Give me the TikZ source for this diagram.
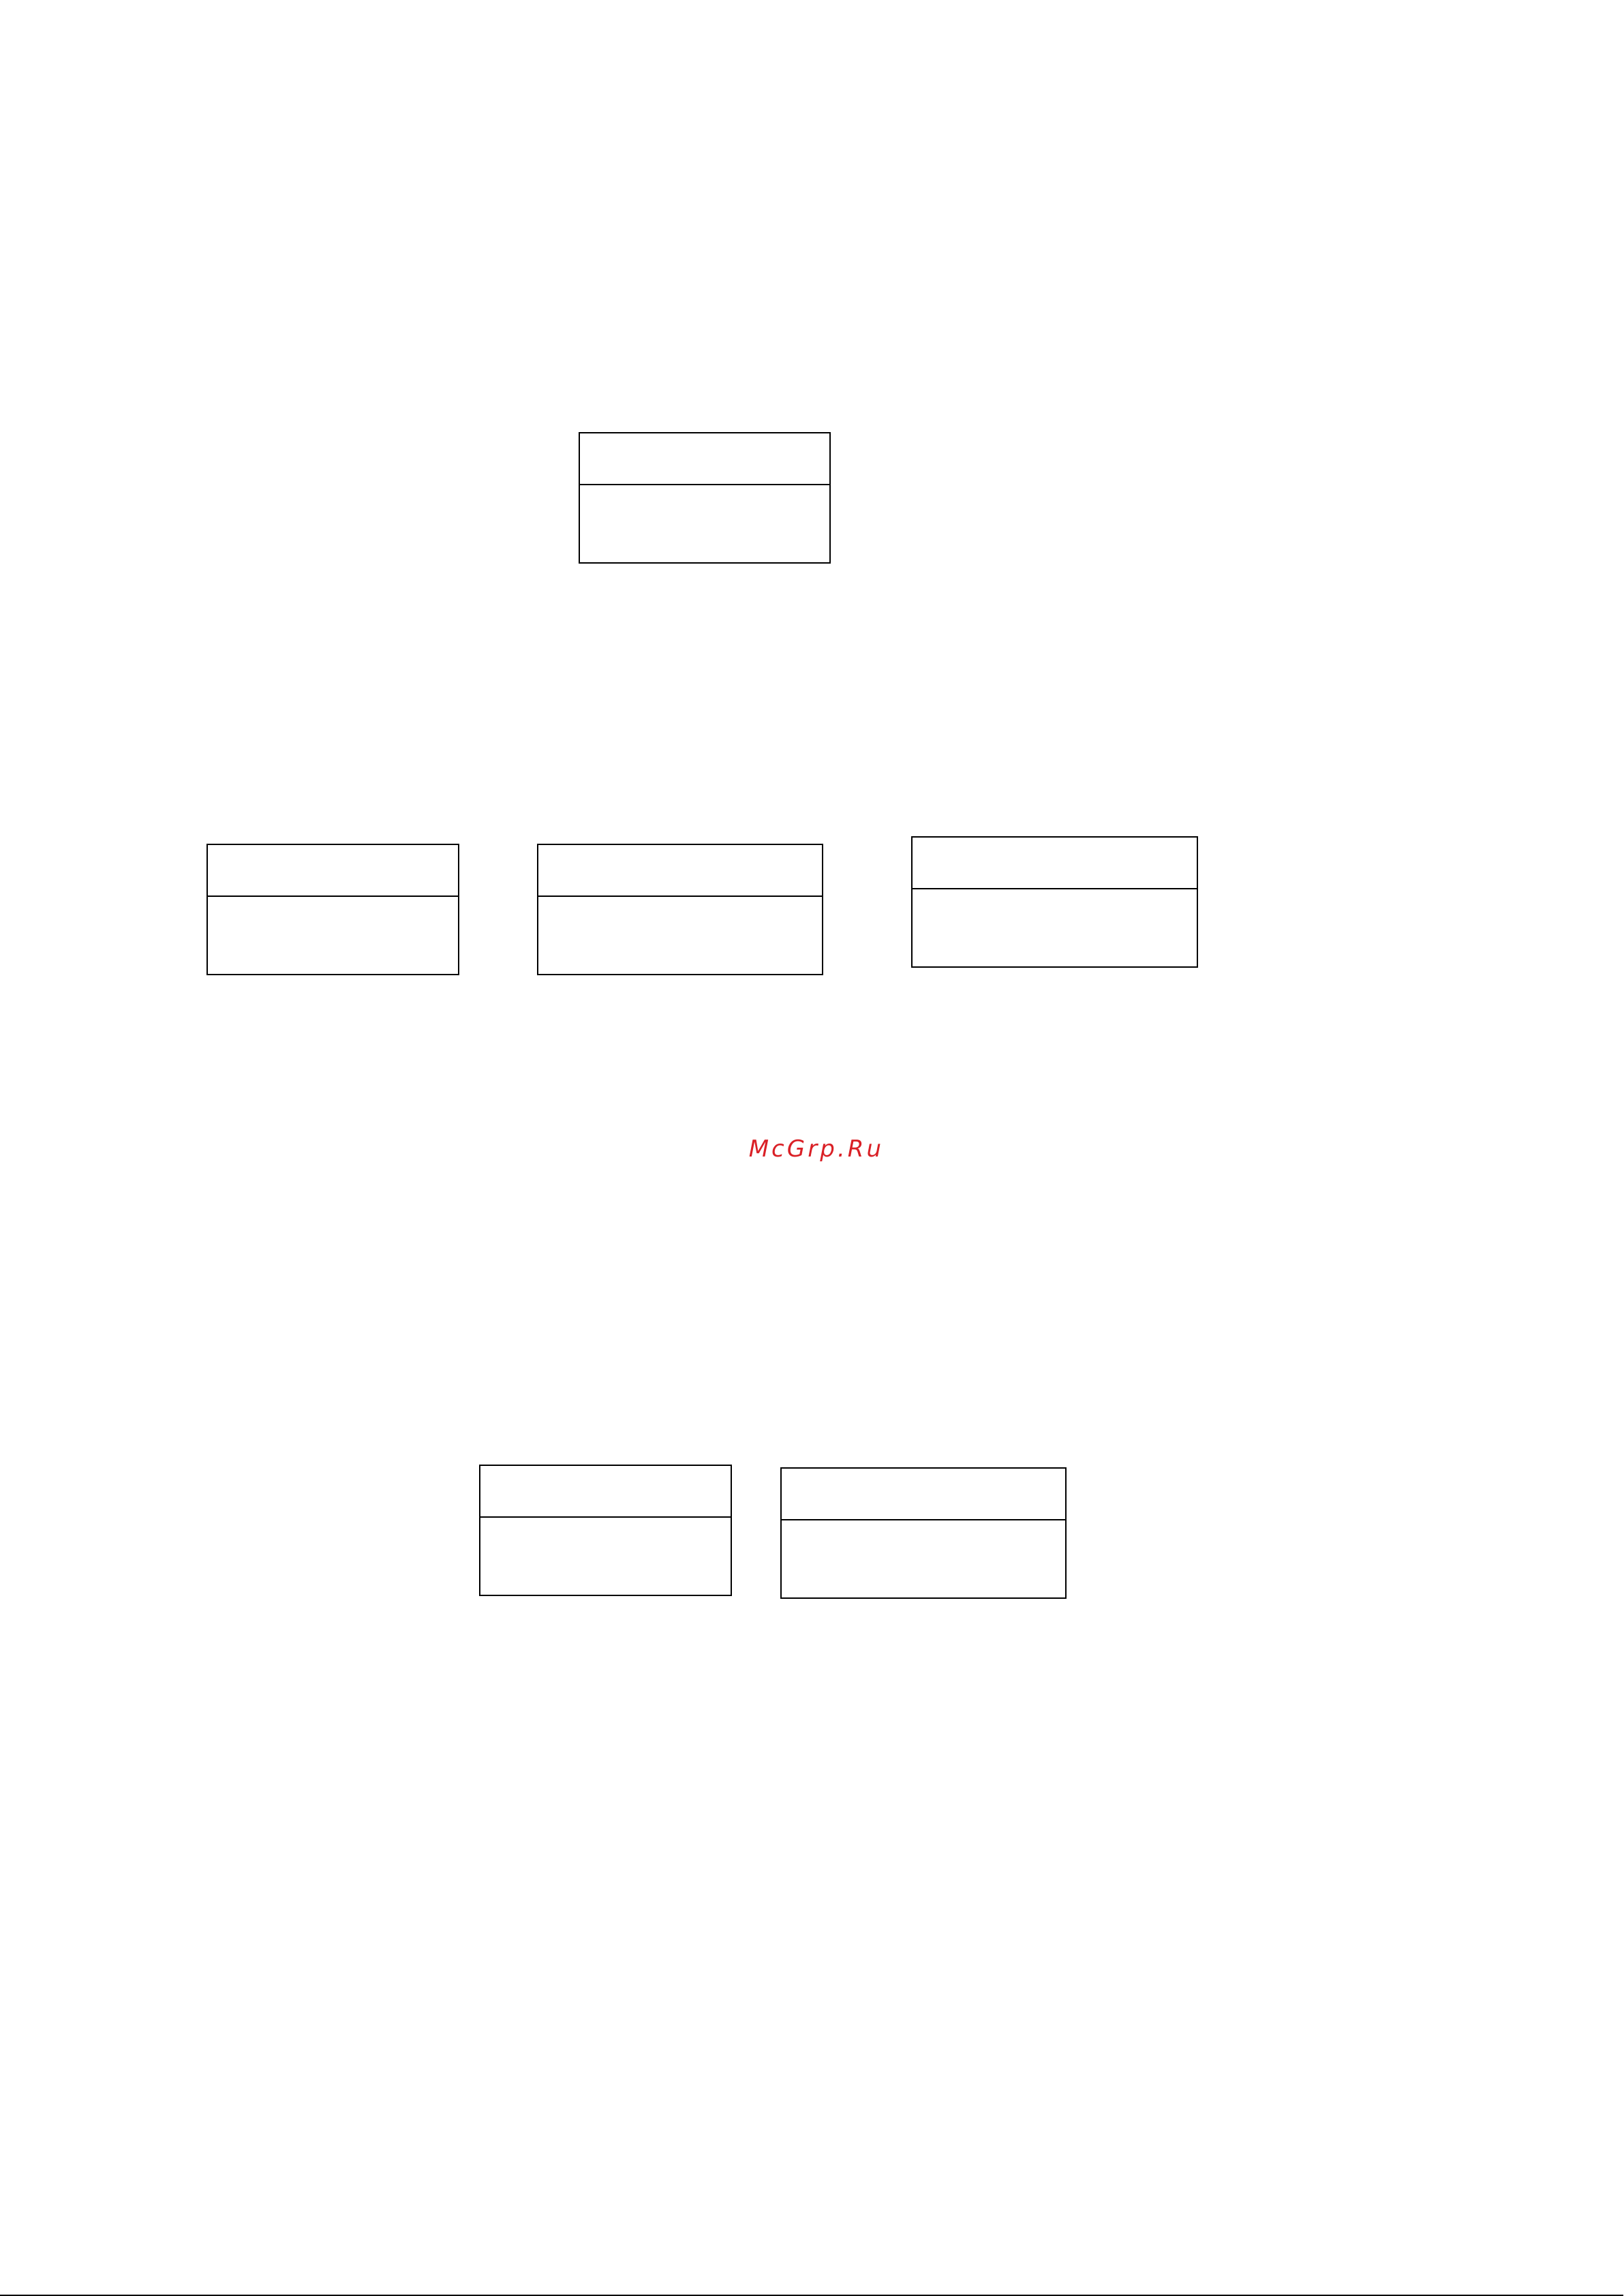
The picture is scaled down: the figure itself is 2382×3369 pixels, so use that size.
\documentclass[tikz,border=0pt]{standalone}
\usepackage{fontspec}
\newfontfamily\wmfont[LetterSpace=12]{DejaVu Sans}
\definecolor{wmred}{RGB}{218,32,38}
\tikzset{
  panel/.style={draw=black, line width=2pt, inner sep=0pt, outer sep=0pt, minimum height=191pt},
  divider/.style={draw=black, line width=2pt},
  thindivider/.style={draw=black, line width=1.2pt},
  watermark/.style={text=wmred, inner sep=0pt, anchor=base, font=\wmfont\itshape\fontsize{34}{40}\selectfont}
}
\begin{document}
\begin{tikzpicture}[x=1pt,y=-1pt]
\useasboundingbox (0,0) rectangle (2382,3369);
\fill[white] (0,0) rectangle (2382,3369);
% boxes
\node[panel, minimum width=368pt] (b1) at (1034,730.5) {};
\node[panel, minimum width=369pt] (bA) at (488.5,1334.5) {};
\node[panel, minimum width=418pt] (bB) at (998,1334.5) {};
\node[panel, minimum width=419pt] (bC) at (1547.5,1323.5) {};
\node[panel, minimum width=369pt] (bD) at (888.5,2245.5) {};
\node[panel, minimum width=418pt] (bE) at (1355,2249.5) {};
% dividers
\draw[divider] (b1.west |- 0,711) -- (b1.east |- 0,711);
\draw[divider] (bA.west |- 0,1315) -- (bA.east |- 0,1315);
\draw[divider] (bB.west |- 0,1315) -- (bB.east |- 0,1315);
\draw[divider] (bC.west |- 0,1304) -- (bC.east |- 0,1304);
\draw[divider] (bD.west |- 0,2226) -- (bD.east |- 0,2226);
\draw[thindivider] (bE.west |- 0,2230) -- (bE.east |- 0,2230);
% watermark
\node[watermark] (wm) at (1196,1697) {McGrp.Ru};
% bottom rule
\coordinate (bl) at (0,3368);
\coordinate (br) at (2382,3368);
\draw[line width=2pt] (bl) -- (br);
\end{tikzpicture}
\end{document}
